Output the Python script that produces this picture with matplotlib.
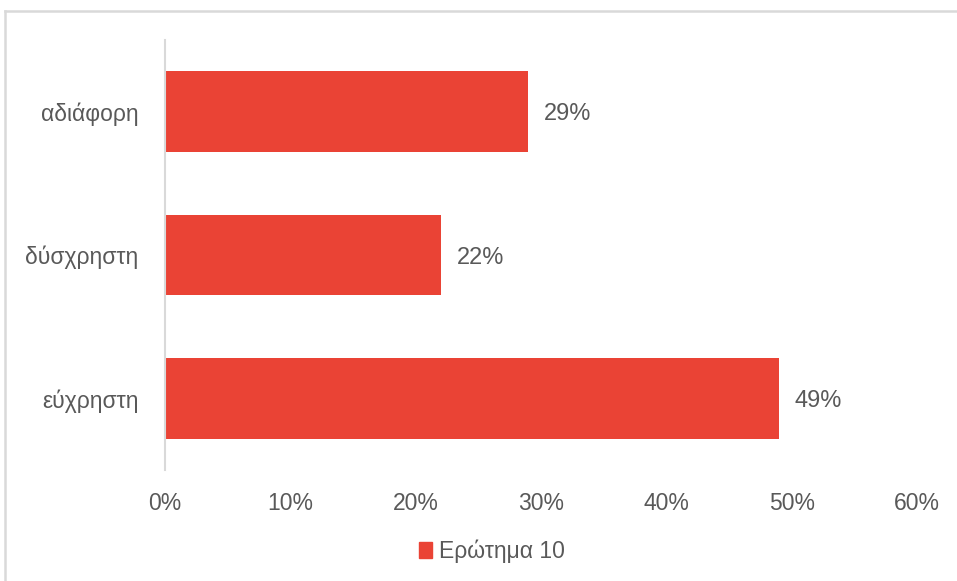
import matplotlib.pyplot as plt
from matplotlib.lines import Line2D
import matplotlib.patches as mpatches
import matplotlib.ticker as ticker

# ── Data ───────────────────────────────────────────────────────────────────
categories = ["εύχρηστη", "δύσχρηστη", "αδιάφορη"]
values = [49, 22, 29]
series_name = "Ερώτημα 10"
xticks = [0, 10, 20, 30, 40, 50, 60]

BAR_COLOR = "#EA4335"
TEXT_COLOR = "#595959"
GRID_COLOR = "#D9D9D9"

plt.rcParams.update({
    "font.family": ["Liberation Sans", "DejaVu Sans"],
    "font.size": 16,
})

W, H = 957, 581
fig = plt.figure(figsize=(W / 100, H / 100), dpi=100)
fig.patch.set_facecolor("white")

# Plot area in pixel terms: x 165..917, y 40..470 (from top)
ax = fig.add_axes([165 / W, 1 - 470 / H, (917 - 165) / W, 430 / H])
ax.set_facecolor("white")

ypos = list(range(len(categories)))
ax.barh(ypos, values, height=0.565, color=BAR_COLOR, zorder=2)

for y, v in zip(ypos, values):
    ax.text(v + 1.25, y, f"{v}%", va="center_baseline", ha="left",
            fontsize=17, color=TEXT_COLOR)

ax.set_xlim(0, 60)
ax.set_ylim(-0.5, len(categories) - 0.5)
ax.set_xticks(xticks)
ax.xaxis.set_major_formatter(ticker.FuncFormatter(lambda v, _: f"{v:.0f}%"))
ax.set_yticks(ypos)
ax.set_yticklabels(categories)

for side in ["top", "right", "bottom"]:
    ax.spines[side].set_visible(False)
ax.spines["left"].set_color(GRID_COLOR)
ax.spines["left"].set_linewidth(1.5)

ax.tick_params(axis="both", length=0, colors=TEXT_COLOR, labelsize=16.5)
ax.tick_params(axis="x", pad=16)
ax.tick_params(axis="y", pad=19)

# Legend below the plot area
handle = mpatches.Patch(color=BAR_COLOR, label=series_name)
fig.legend(handles=[handle], loc="center", bbox_to_anchor=(492 / W, 1 - 551 / H),
           frameon=False, fontsize=16.5, handlelength=0.55, handleheight=0.7,
           handletextpad=0.3, labelcolor=TEXT_COLOR)

# Chart frame (top and left edges)
fig.add_artist(Line2D([5 / W, 1], [1 - 11 / H, 1 - 11 / H], color=GRID_COLOR,
                      linewidth=1.8, transform=fig.transFigure))
fig.add_artist(Line2D([5 / W, 5 / W], [0, 1 - 11 / H], color=GRID_COLOR,
                      linewidth=1.8, transform=fig.transFigure))

fig.savefig("out.png", dpi=100)
